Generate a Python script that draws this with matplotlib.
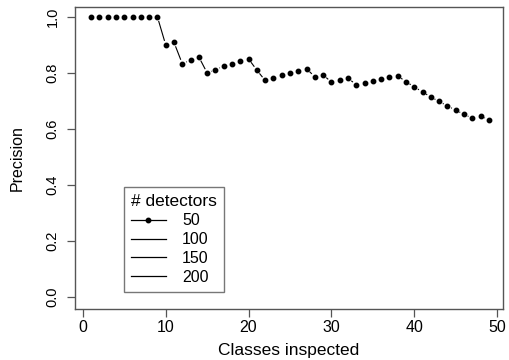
"""Precision vs. classes inspected, R-style base plot."""

import matplotlib

matplotlib.use("Agg")

import matplotlib.pyplot as plt
import numpy as np
from matplotlib.lines import Line2D

classes = list(range(1, 50))
precision_50 = [
    1.0, 1.0, 1.0, 1.0, 1.0, 1.0, 1.0, 1.0, 1.0,
    0.900, 0.909, 0.833, 0.846, 0.857, 0.800, 0.812, 0.824, 0.833, 0.842,
    0.850, 0.810, 0.773, 0.783, 0.792, 0.800, 0.808, 0.815, 0.786, 0.793,
    0.767, 0.774, 0.781, 0.758, 0.765, 0.771, 0.778, 0.784, 0.789, 0.769,
    0.750, 0.732, 0.714, 0.698, 0.682, 0.667, 0.652, 0.638, 0.646, 0.633,
]
legend_labels = ["50", "100", "150", "200"]
x_ticks = [0, 10, 20, 30, 40, 50]
y_ticks = [0.0, 0.2, 0.4, 0.6, 0.8, 1.0]

plt.rcParams["font.family"] = ["Liberation Sans", "DejaVu Sans"]
spine_color = "#555555"

fig = plt.figure(figsize=(5.09, 3.6), dpi=100)
ax = fig.add_axes([0.147, 0.142, 0.841, 0.839])
ax.set_xlim(-0.97, 50.7)
ax.set_ylim(-0.043, 1.036)

ax.plot(classes, precision_50, linestyle="none", marker="o",
        markersize=3.2, color="black")

# type="b": segments between points with a gap around each point
fig.canvas.draw()
pts = ax.transData.transform(np.column_stack([classes, precision_50]))
gap = 4.2
for (x0, y0), (x1, y1) in zip(pts[:-1], pts[1:]):
    d = np.hypot(x1 - x0, y1 - y0)
    if d <= 2 * gap + 0.5:
        continue
    ux, uy = (x1 - x0) / d, (y1 - y0) / d
    seg = ax.transData.inverted().transform(
        [[x0 + ux * gap, y0 + uy * gap], [x1 - ux * gap, y1 - uy * gap]]
    )
    ax.plot(seg[:, 0], seg[:, 1], color="black", linewidth=0.8,
            solid_capstyle="butt")

ax.set_xticks(x_ticks)
ax.set_yticks(y_ticks)
ax.set_yticklabels([f"{v:.1f}" for v in y_ticks], rotation=90, va="center")
ax.tick_params(direction="out", length=6, width=0.9, color=spine_color)
ax.tick_params(axis="x", labelsize=11.5, pad=2)
ax.tick_params(axis="y", labelsize=10.5, pad=5)
for spine in ax.spines.values():
    spine.set_color(spine_color)
    spine.set_linewidth(1.0)

ax.set_xlabel("Classes inspected", fontsize=12.5)
ax.set_ylabel("Precision", fontsize=11.5)
ax.xaxis.set_label_coords(0.5, -0.113)
ax.yaxis.set_label_coords(-0.117, 0.5)

handles = [
    Line2D([], [], color="black", marker="o", markersize=3.2, linewidth=0.9),
    Line2D([], [], color="black", linewidth=0.9),
    Line2D([], [], color="black", linewidth=0.9),
    Line2D([], [], color="black", linewidth=0.9),
]
leg = ax.legend(handles, legend_labels, title="# detectors",
                loc="lower left", bbox_to_anchor=(0.114, 0.055),
                fontsize=11.5, title_fontsize=12.5, frameon=True,
                fancybox=False, handlelength=2.2, handletextpad=1.0,
                labelspacing=0.25, borderpad=0.45, borderaxespad=0.0,
                alignment="left")
leg.get_frame().set_edgecolor(spine_color)
leg.get_frame().set_linewidth(1.0)

fig.savefig("out.png", dpi=100)
